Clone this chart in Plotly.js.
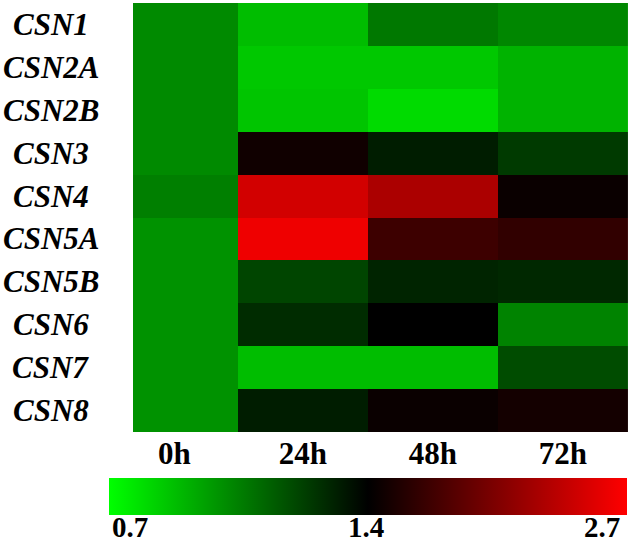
<!DOCTYPE html>
<html lang="en">
<head>
    <meta charset="UTF-8">
    <title>CSN expression heatmap</title>
    <script src='https://cdn.plot.ly/plotly-3.0.0.min.js'></script>
    <style> body { margin: 0; } </style>
</head>
<body>
    <div id="plot" style="width:630px; height:544px;"></div>

    <script>
        // genes (rows) and time points (columns)
        const genes = ['CSN1', 'CSN2A', 'CSN2B', 'CSN3', 'CSN4', 'CSN5A', 'CSN5B', 'CSN6', 'CSN7', 'CSN8'];
        const times = ['0h', '24h', '48h', '72h'];

        // relative expression
        const fold0h  = [1.02, 1.02, 1.02, 1.02, 1.05, 1.00, 1.00, 1.00, 1.00, 1.00];
        const fold24h = [0.88, 0.85, 0.86, 1.48, 2.47, 2.62, 1.21, 1.28, 0.88, 1.32];
        const fold48h = [1.07, 0.85, 0.80, 1.32, 2.27, 1.71, 1.30, 1.40, 0.88, 1.45];
        const fold72h = [1.03, 0.91, 0.91, 1.24, 1.45, 1.65, 1.29, 1.04, 1.19, 1.50];

        // colour scale break points: green -> black -> red
        const scaleLabels = ['0.7', '1.4', '2.7'];
        const scaleMin = 0.7, scaleMid = 1.4, scaleMax = 2.7;

        // the legend bar is drawn with black at its middle, so map values piecewise
        function toScale(v) {
            if (v <= scaleMid) return 0.5 * (v - scaleMin) / (scaleMid - scaleMin);
            return 0.5 + 0.5 * (v - scaleMid) / (scaleMax - scaleMid);
        }

        // z rows = genes, columns = times
        const zFirst = genes.map((g, i) => [toScale(fold0h[i])]);
        const zRest = genes.map((g, i) => [toScale(fold24h[i]), toScale(fold48h[i]), toScale(fold72h[i])]);

        const serif = 'Liberation Serif, Times New Roman, serif';

        const trace0 = {
            type: 'heatmap', x: times.slice(0, 1), y: genes, z: zFirst,
            coloraxis: 'coloraxis', xaxis: 'x', yaxis: 'y'
        };
        const traceRest = {
            type: 'heatmap', x: times.slice(1), y: genes, z: zRest,
            coloraxis: 'coloraxis', xaxis: 'x2', yaxis: 'y'
        };

        const tickFont = {family: serif, size: 31, color: '#000', weight: 'bold'};

        // gene names centred to the left of the map
        const geneLabels = genes.map(g => ({
            text: g, xref: 'paper', yref: 'y', x: -0.166, y: g,
            xanchor: 'center', yanchor: 'middle', showarrow: false,
            font: {family: serif, size: 31, color: '#000', weight: 'bold', style: 'italic'}
        }));

        // labels under the colour bar (sit tight against it, like the original)
        const barLabelX = [-0.006, 0.471, 0.948];
        const barLabels = scaleLabels.map((t, i) => ({
            text: t, xref: 'paper', yref: 'paper', x: barLabelX[i], y: -0.222,
            xanchor: 'center', yanchor: 'middle', showarrow: false,
            font: {family: serif, size: 29, color: '#000', weight: 'bold'}
        }));

        const layout = {
            width: 630, height: 544,
            margin: {l: 133, r: 2, t: 3, b: 112, autoexpand: false},
            paper_bgcolor: '#fff', plot_bgcolor: '#fff',
            showlegend: false,
            xaxis: {domain: [0, 0.212], anchor: 'y', tickfont: tickFont, ticks: '',
                    showgrid: false, zeroline: false, ticklabelstandoff: 0, ticklabelshift: -11},
            xaxis2: {domain: [0.212, 1], anchor: 'y', tickfont: tickFont, ticks: '',
                     showgrid: false, zeroline: false, ticklabelstandoff: 0},
            yaxis: {autorange: 'reversed', showticklabels: false, ticks: '',
                    showgrid: false, zeroline: false},
            coloraxis: {
                cmin: 0, cmax: 1,
                colorscale: [[0, 'rgb(0,255,0)'], [0.5, 'rgb(0,0,0)'], [1, 'rgb(255,0,0)']],
                colorbar: {
                    orientation: 'h',
                    x: -0.0485, xanchor: 'left', y: -0.107, yanchor: 'top',
                    len: 518, lenmode: 'pixels', thickness: 37,
                    xpad: 0, ypad: 0, outlinewidth: 0,
                    ticks: '', showticklabels: false
                }
            },
            annotations: geneLabels.concat(barLabels)
        };

        Plotly.newPlot('plot', [trace0, traceRest], layout, {displayModeBar: false, staticPlot: true});
    </script>
</body>
</html>
